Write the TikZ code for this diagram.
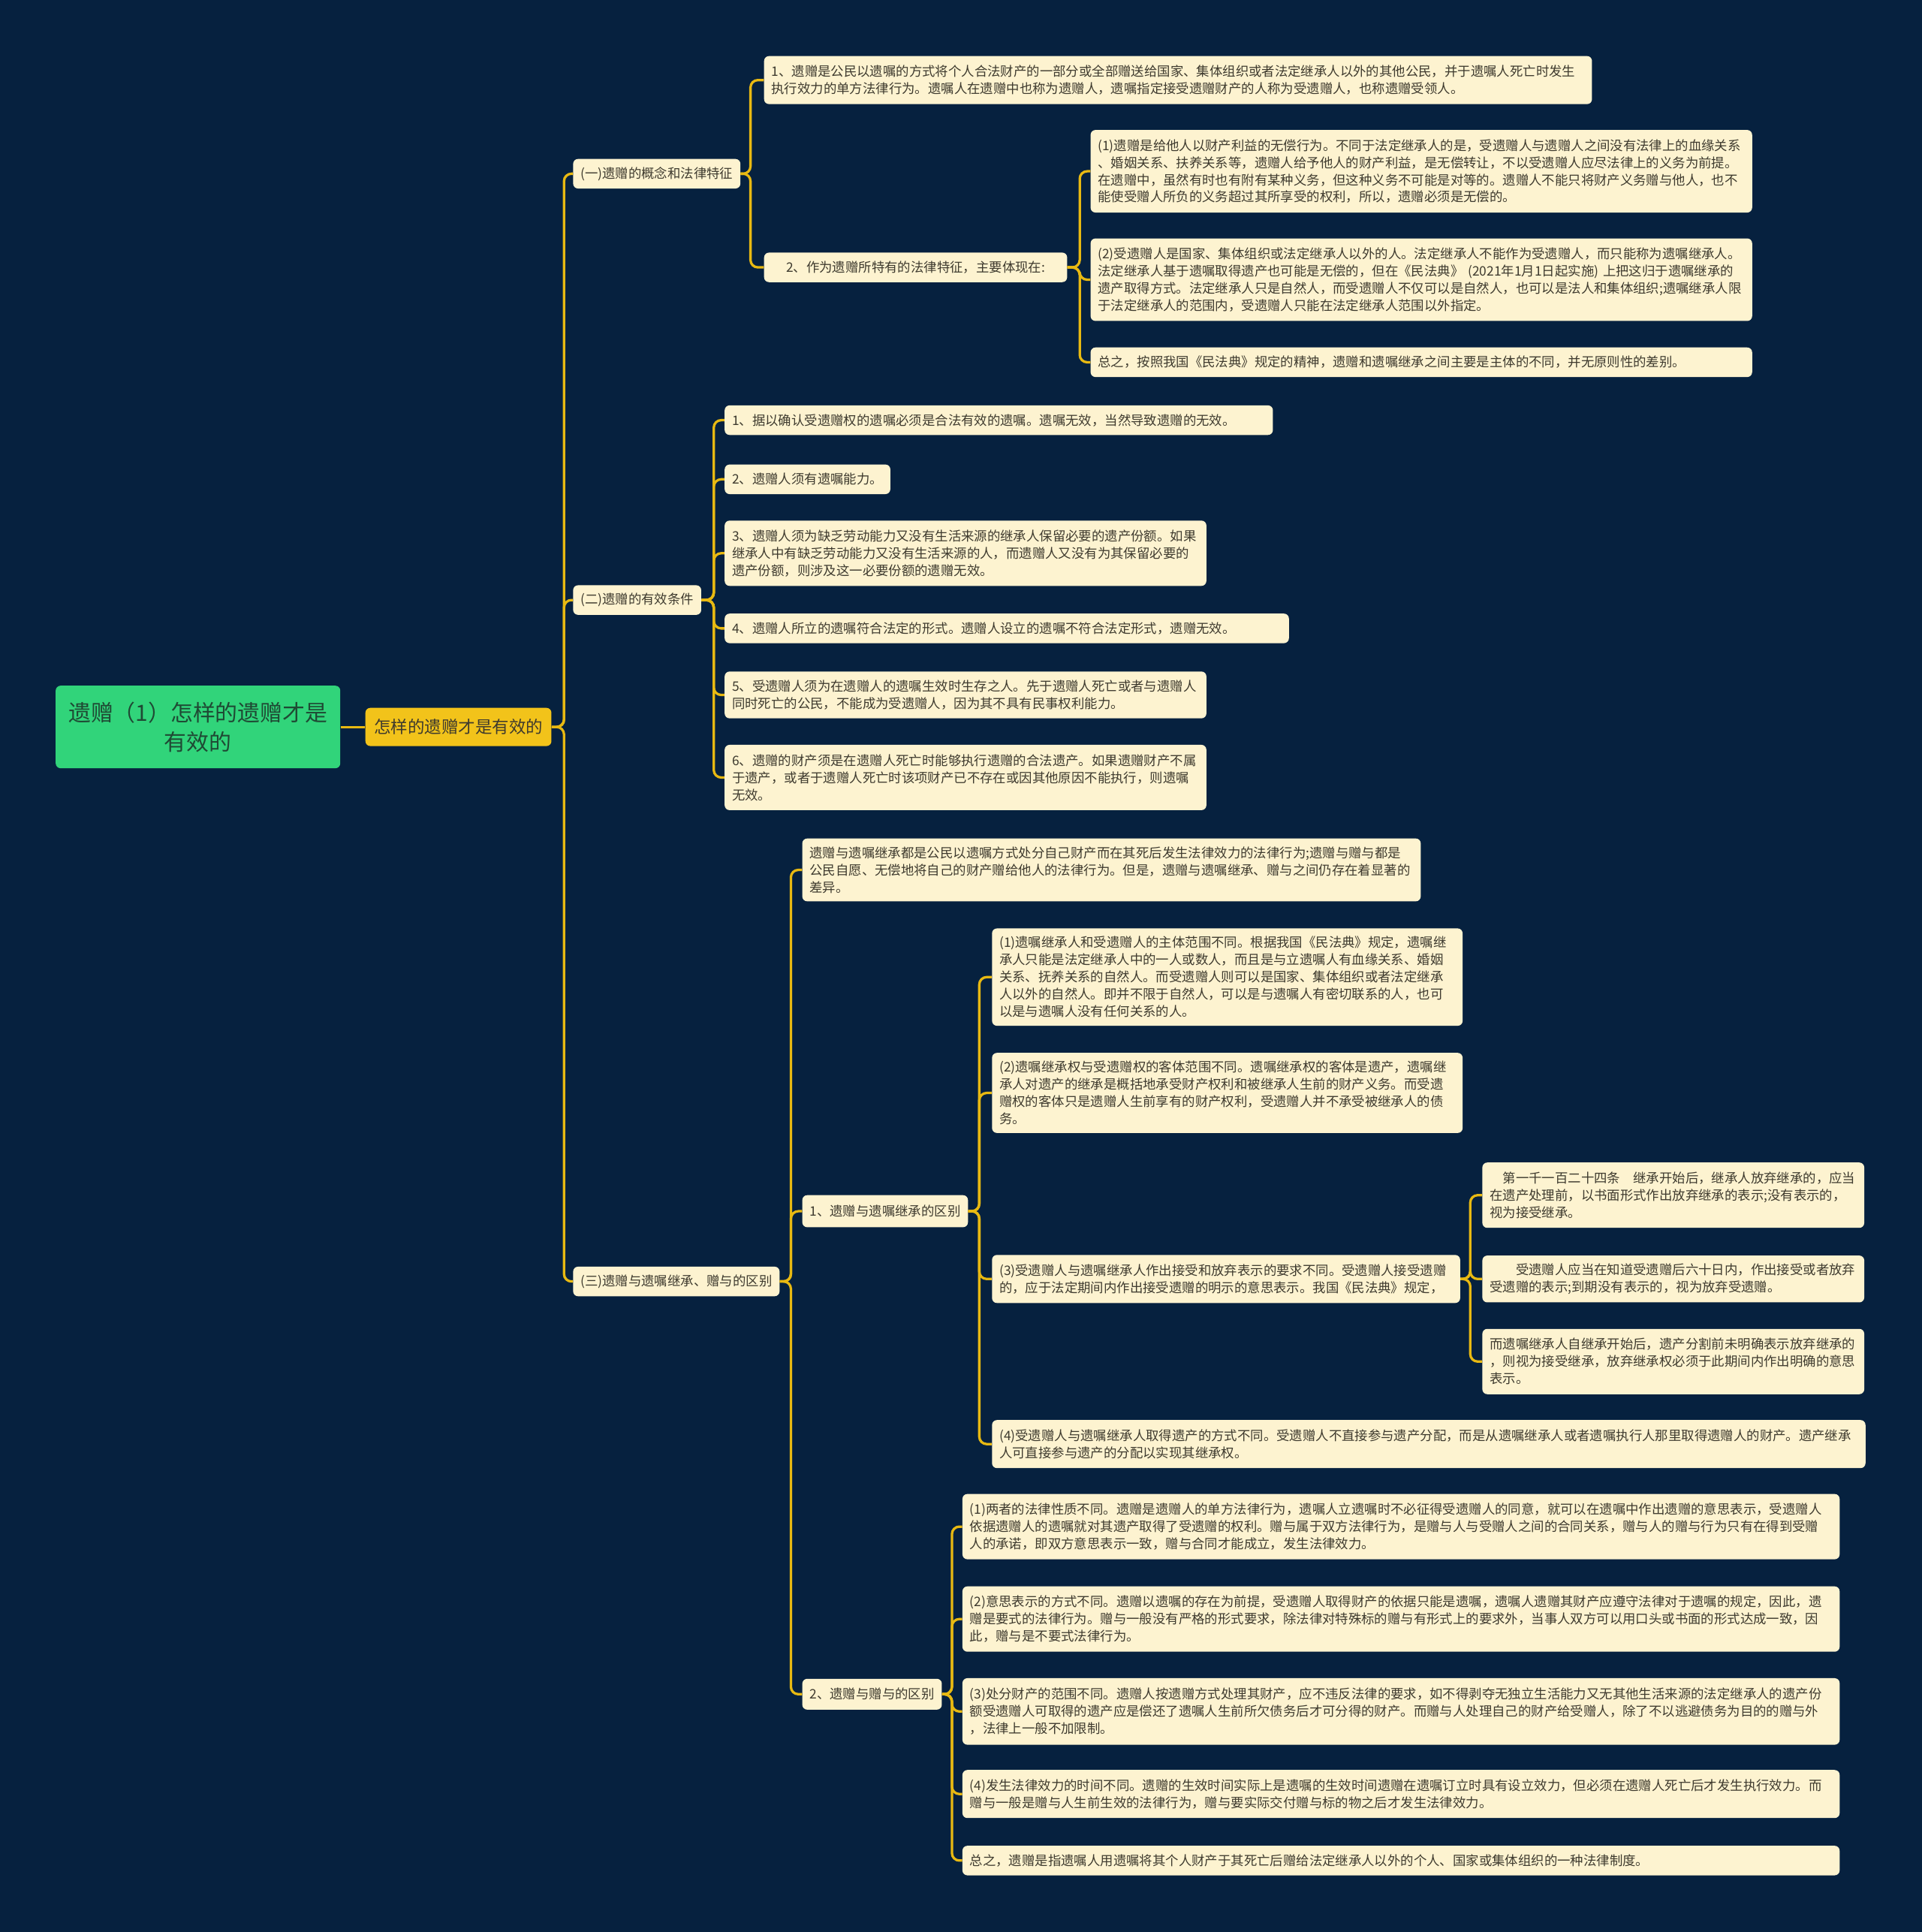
\documentclass[tikz,border=0pt]{standalone}
\usepackage{fontspec}
\newfontfamily\cjk{Noto Sans CJK SC}
\usepackage{tikz}
\usetikzlibrary{positioning}
\definecolor{fondo}{HTML}{06213F}
\definecolor{oro}{HTML}{E8B912}
\definecolor{crema}{HTML}{FDF3D0}
\definecolor{tinta}{HTML}{3E3A2E}
\definecolor{verde}{HTML}{31D47A}
\definecolor{verdeosc}{HTML}{1F4A34}
\definecolor{amarillo}{HTML}{F2C31A}

\begin{document}
\begin{tikzpicture}[x=1pt, y=-1pt,
      hoja/.style={fill=crema, rounded corners=4pt, text=tinta, align=left, anchor=west,
                   inner xsep=6pt, inner ysep=3pt, font=\cjk\fontsize{10.6}{14}\selectfont},
      raiz/.style={fill=verde, rounded corners=4pt, text=verdeosc, align=center, anchor=west,
                   minimum width=231pt, minimum height=67pt, text width=220pt, inner xsep=5pt,
                   font=\cjk\fontsize{18.2}{24}\selectfont},
      tema/.style={fill=amarillo, rounded corners=4pt, text=tinta, minimum height=31pt,
                   inner xsep=7pt, font=\cjk\fontsize{13.7}{16}\selectfont},
      link/.style={draw=oro, line width=2pt, rounded corners=6pt}]
    \fill[fondo] (0,0) rectangle (1560,1568);
    \useasboundingbox (0,0) rectangle (1560,1568);

    \node[raiz] (root) at (45,590) {遗赠（1）怎样的遗赠才是\\有效的};
    \node[tema, right=20pt of root] (main) {怎样的遗赠才是有效的};

    \node[hoja, minimum height=24pt] (s1) at (465,141) {(一)遗赠的概念和法律特征};
    \node[hoja, minimum height=24pt] (s2) at (465,487) {(二)遗赠的有效条件};
    \node[hoja, minimum height=24pt] (s3) at (465,1040) {(三)遗赠与遗嘱继承、赠与的区别};

    % (一)
    \node[hoja, text width=660pt, minimum height=39pt] (s1a) at (620,65)
      {1、遗赠是公民以遗嘱的方式将个人合法财产的一部分或全部赠送给国家、集体组织或者法定继承人以外的其他公民，并于遗嘱人死亡时发生\\执行效力的单方法律行为。遗嘱人在遗赠中也称为遗赠人，遗嘱指定接受遗赠财产的人称为受遗赠人，也称遗赠受领人。};
    \node[hoja, align=center, minimum width=246pt, minimum height=24pt] (s1b) at (620,217)
      {2、作为遗赠所特有的法律特征，主要体现在:};
    \node[hoja, text width=525pt, minimum height=67pt] (s1b1) at (885,139)
      {(1)遗赠是给他人以财产利益的无偿行为。不同于法定继承人的是，受遗赠人与遗赠人之间没有法律上的血缘关系\\、婚姻关系、扶养关系等，遗赠人给予他人的财产利益，是无偿转让，不以受遗赠人应尽法律上的义务为前提。\\在遗赠中，虽然有时也有附有某种义务，但这种义务不可能是对等的。遗赠人不能只将财产义务赠与他人，也不\\能使受赠人所负的义务超过其所享受的权利，所以，遗赠必须是无偿的。};
    \node[hoja, text width=525pt, minimum height=67pt] (s1b2) at (885,227)
      {(2)受遗赠人是国家、集体组织或法定继承人以外的人。法定继承人不能作为受遗赠人，而只能称为遗嘱继承人。\\法定继承人基于遗嘱取得遗产也可能是无偿的，但在《民法典》 (2021年1月1日起实施) 上把这归于遗嘱继承的\\遗产取得方式。法定继承人只是自然人，而受遗赠人不仅可以是自然人，也可以是法人和集体组织;遗嘱继承人限\\于法定继承人的范围内，受遗赠人只能在法定继承人范围以外指定。};
    \node[hoja, text width=525pt, minimum height=24pt] (s1b3) at (885,294)
      {总之，按照我国《民法典》规定的精神，遗赠和遗嘱继承之间主要是主体的不同，并无原则性的差别。};

    % (二)
    \node[hoja, text width=433pt, minimum height=24pt] (s2a) at (588,341)
      {1、据以确认受遗赠权的遗嘱必须是合法有效的遗嘱。遗嘱无效，当然导致遗赠的无效。};
    \node[hoja, minimum height=24pt] (s2b) at (588,389) {2、遗赠人须有遗嘱能力。};
    \node[hoja, text width=379pt, minimum height=53pt] (s2c) at (588,449)
      {3、遗赠人须为缺乏劳动能力又没有生活来源的继承人保留必要的遗产份额。如果\\继承人中有缺乏劳动能力又没有生活来源的人，而遗赠人又没有为其保留必要的\\遗产份额，则涉及这一必要份额的遗赠无效。};
    \node[hoja, text width=446pt, minimum height=24pt] (s2d) at (588,510)
      {4、遗赠人所立的遗嘱符合法定的形式。遗赠人设立的遗嘱不符合法定形式，遗赠无效。};
    \node[hoja, text width=379pt, minimum height=38pt] (s2e) at (588,564)
      {5、受遗赠人须为在遗赠人的遗嘱生效时生存之人。先于遗赠人死亡或者与遗赠人\\同时死亡的公民，不能成为受遗赠人，因为其不具有民事权利能力。};
    \node[hoja, text width=379pt, minimum height=53pt] (s2f) at (588,631)
      {6、遗赠的财产须是在遗赠人死亡时能够执行遗赠的合法遗产。如果遗赠财产不属\\于遗产，或者于遗赠人死亡时该项财产已不存在或因其他原因不能执行，则遗嘱\\无效。};

    % (三)
    \node[hoja, text width=490pt, minimum height=51pt] (s3a) at (651,706)
      {遗赠与遗嘱继承都是公民以遗嘱方式处分自己财产而在其死后发生法律效力的法律行为;遗赠与赠与都是\\公民自愿、无偿地将自己的财产赠给他人的法律行为。但是，遗赠与遗嘱继承、赠与之间仍存在着显著的\\差异。};
    \node[hoja, minimum height=26pt] (s3b) at (651,983) {1、遗赠与遗嘱继承的区别};
    \node[hoja, minimum height=25pt] (s3c) at (651,1375) {2、遗赠与赠与的区别};

    \node[hoja, text width=370pt, minimum height=79pt] (s3b1) at (805,793)
      {(1)遗嘱继承人和受遗赠人的主体范围不同。根据我国《民法典》规定，遗嘱继\\承人只能是法定继承人中的一人或数人，而且是与立遗嘱人有血缘关系、婚姻\\关系、抚养关系的自然人。而受遗赠人则可以是国家、集体组织或者法定继承\\人以外的自然人。即并不限于自然人，可以是与遗嘱人有密切联系的人，也可\\以是与遗嘱人没有任何关系的人。};
    \node[hoja, text width=370pt, minimum height=65pt] (s3b2) at (805,887)
      {(2)遗嘱继承权与受遗赠权的客体范围不同。遗嘱继承权的客体是遗产，遗嘱继\\承人对遗产的继承是概括地承受财产权利和被继承人生前的财产义务。而受遗\\赠权的客体只是遗赠人生前享有的财产权利，受遗赠人并不承受被继承人的债\\务。};
    \node[hoja, text width=368pt, minimum height=39pt] (s3b3) at (805,1038)
      {(3)受遗赠人与遗嘱继承人作出接受和放弃表示的要求不同。受遗赠人接受遗赠\\的，应于法定期间内作出接受遗赠的明示的意思表示。我国《民法典》规定，};
    \node[hoja, text width=697pt, minimum height=39pt] (s3b4) at (805,1172)
      {(4)受遗赠人与遗嘱继承人取得遗产的方式不同。受遗赠人不直接参与遗产分配，而是从遗嘱继承人或者遗嘱执行人那里取得遗赠人的财产。遗产继承\\人可直接参与遗产的分配以实现其继承权。};
    \node[hoja, text width=298pt, minimum height=53pt] (s3b3a) at (1203,970)
      {\hspace*{1em}第一千一百二十四条\hspace{1em}继承开始后，继承人放弃继承的，应当\\在遗产处理前，以书面形式作出放弃继承的表示;没有表示的，\\视为接受继承。};
    \node[hoja, text width=298pt, minimum height=38pt] (s3b3b) at (1203,1038)
      {\hspace*{2em}受遗赠人应当在知道受遗赠后六十日内，作出接受或者放弃\\受遗赠的表示;到期没有表示的，视为放弃受遗赠。};
    \node[hoja, text width=298pt, minimum height=53pt] (s3b3c) at (1203,1105)
      {而遗嘱继承人自继承开始后，遗产分割前未明确表示放弃继承的\\，则视为接受继承，放弃继承权必须于此期间内作出明确的意思\\表示。};

    \node[hoja, text width=700pt, minimum height=53pt] (s3c1) at (781,1239)
      {(1)两者的法律性质不同。遗赠是遗赠人的单方法律行为，遗嘱人立遗嘱时不必征得受遗赠人的同意，就可以在遗嘱中作出遗赠的意思表示，受遗赠人\\依据遗赠人的遗嘱就对其遗产取得了受遗赠的权利。赠与属于双方法律行为，是赠与人与受赠人之间的合同关系，赠与人的赠与行为只有在得到受赠\\人的承诺，即双方意思表示一致，赠与合同才能成立，发生法律效力。};
    \node[hoja, text width=700pt, minimum height=53pt] (s3c2) at (781,1314)
      {(2)意思表示的方式不同。遗赠以遗嘱的存在为前提，受遗赠人取得财产的依据只能是遗嘱，遗嘱人遗赠其财产应遵守法律对于遗嘱的规定，因此，遗\\赠是要式的法律行为。赠与一般没有严格的形式要求，除法律对特殊标的赠与有形式上的要求外，当事人双方可以用口头或书面的形式达成一致，因\\此，赠与是不要式法律行为。};
    \node[hoja, text width=700pt, minimum height=54pt] (s3c3) at (781,1389)
      {(3)处分财产的范围不同。遗赠人按遗赠方式处理其财产，应不违反法律的要求，如不得剥夺无独立生活能力又无其他生活来源的法定继承人的遗产份\\额受遗赠人可取得的遗产应是偿还了遗嘱人生前所欠债务后才可分得的财产。而赠与人处理自己的财产给受赠人，除了不以逃避债务为目的的赠与外\\，法律上一般不加限制。};
    \node[hoja, text width=700pt, minimum height=39pt] (s3c4) at (781,1456)
      {(4)发生法律效力的时间不同。遗赠的生效时间实际上是遗嘱的生效时间遗赠在遗嘱订立时具有设立效力，但必须在遗赠人死亡后才发生执行效力。而\\赠与一般是赠与人生前生效的法律行为，赠与要实际交付赠与标的物之后才发生法律效力。};
    \node[hoja, text width=700pt, minimum height=24pt] (s3c5) at (781,1510)
      {总之，遗赠是指遗嘱人用遗嘱将其个人财产于其死亡后赠给法定继承人以外的个人、国家或集体组织的一种法律制度。};

    % ramas
    \draw[link] (root) -- (main);
    \draw[link] (main.east) -- ++(10,0) |- (s1.west); \draw[link] (main.east) -- ++(10,0) |- (s2.west);
    \draw[link] (main.east) -- ++(10,0) |- (s3.west);
    \draw[link] (s1.east) -- ++(8,0) |- (s1a.west); \draw[link] (s1.east) -- ++(8,0) |- (s1b.west);
    \draw[link] (s1b.east) -- ++(10,0) |- (s1b1.west); \draw[link] (s1b.east) -- ++(10,0) |- (s1b2.west);
    \draw[link] (s1b.east) -- ++(10,0) |- (s1b3.west);
    \draw[link] (s2.east) -- ++(10,0) |- (s2a.west); \draw[link] (s2.east) -- ++(10,0) |- (s2b.west);
    \draw[link] (s2.east) -- ++(10,0) |- (s2c.west); \draw[link] (s2.east) -- ++(10,0) |- (s2d.west);
    \draw[link] (s2.east) -- ++(10,0) |- (s2e.west); \draw[link] (s2.east) -- ++(10,0) |- (s2f.west);
    \draw[link] (s3.east) -- ++(9,0) |- (s3a.west); \draw[link] (s3.east) -- ++(9,0) |- (s3b.west);
    \draw[link] (s3.east) -- ++(9,0) |- (s3c.west);
    \draw[link] (s3b.east) -- ++(9,0) |- (s3b1.west); \draw[link] (s3b.east) -- ++(9,0) |- (s3b2.west);
    \draw[link] (s3b.east) -- ++(9,0) |- (s3b3.west); \draw[link] (s3b.east) -- ++(9,0) |- (s3b4.west);
    \draw[link] (s3b3.east) -- ++(8,0) |- (s3b3a.west); \draw[link] (s3b3.east) -- ++(8,0) |- (s3b3b.west);
    \draw[link] (s3b3.east) -- ++(8,0) |- (s3b3c.west);
    \draw[link] (s3c.east) -- ++(8,0) |- (s3c1.west); \draw[link] (s3c.east) -- ++(8,0) |- (s3c2.west);
    \draw[link] (s3c.east) -- ++(8,0) |- (s3c3.west); \draw[link] (s3c.east) -- ++(8,0) |- (s3c4.west);
    \draw[link] (s3c.east) -- ++(8,0) |- (s3c5.west);
  \end{tikzpicture}
\end{document}
